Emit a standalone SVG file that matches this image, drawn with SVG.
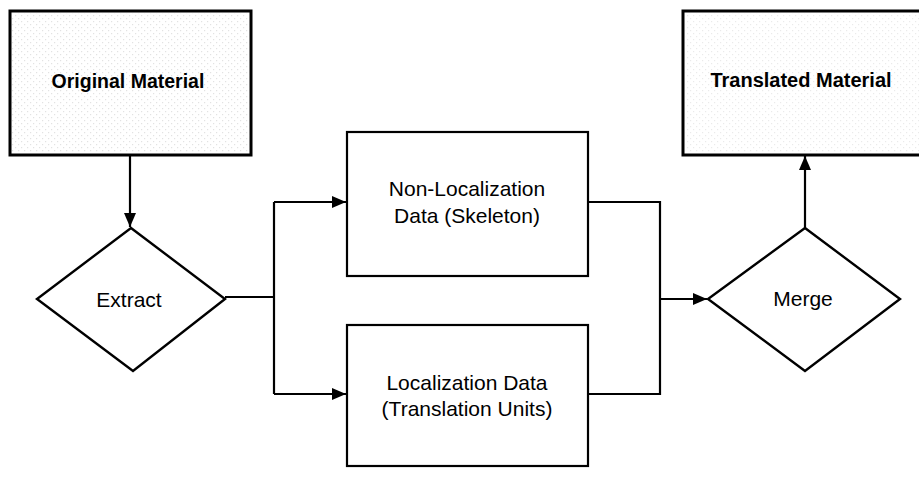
<svg xmlns="http://www.w3.org/2000/svg" width="919" height="479" viewBox="0 0 919 479">
  <style>
    .box { fill: #ffffff; stroke: #000000; stroke-width: 2.2; }
    .mat { stroke-width: 3; }
    .dia { fill: #ffffff; stroke: #000000; stroke-width: 2.4; stroke-linejoin: miter; }
    .lbl { font-family: "Liberation Sans", Arial, sans-serif; font-size: 21px; fill: #000000; text-anchor: middle; dominant-baseline: central; }
    .bold { font-weight: bold; font-size: 19.5px; }
    .wire { fill: none; stroke: #000000; stroke-width: 2.2; }
  </style>
  <defs>
    <marker id="arrow" markerWidth="14" markerHeight="12" refX="14" refY="6" orient="auto" markerUnits="userSpaceOnUse">
      <path d="M0,0 L14,6 L0,12 Z" fill="#000000"/>
    </marker>
    <!-- stipple texture used inside the material boxes -->
    <pattern id="stipple" width="6" height="6" patternUnits="userSpaceOnUse">
      <rect x="0" y="0" width="1.2" height="1.2" fill="#8a8a8a"/>
      <rect x="3" y="3" width="1.2" height="1.2" fill="#8a8a8a"/>
    </pattern>
  </defs>

  <rect width="919" height="479" fill="#ffffff"/>

  <g id="original-material">
    <rect class="box mat" x="10" y="11" width="241" height="144"/>
    <rect x="12" y="13" width="237" height="140" fill="url(#stipple)" opacity="0.25"/>
    <text class="lbl bold" x="128" y="81">Original Material</text>
  </g>

  <g id="translated-material">
    <rect class="box mat" x="683" y="11" width="240" height="144"/>
    <rect x="685" y="13" width="234" height="140" fill="url(#stipple)" opacity="0.18"/>
    <text class="lbl bold" x="801" y="80" style="font-size:20px">Translated Material</text>
  </g>

  <g id="extract">
    <polygon class="dia" points="131,228 225,299 133,371 37,299"/>
    <text class="lbl" x="129" y="299">Extract</text>
  </g>

  <g id="merge">
    <polygon class="dia" points="805,228 900,299 805,371 708,299"/>
    <text class="lbl" x="803" y="298">Merge</text>
  </g>

  <g id="skeleton">
    <rect class="box" x="347" y="132" width="241" height="144"/>
    <text class="lbl" x="467" y="188">Non-Localization</text>
    <text class="lbl" x="467" y="215">Data (Skeleton)</text>
  </g>

  <g id="translation-units">
    <rect class="box" x="347" y="325" width="241" height="141"/>
    <text class="lbl" x="467" y="382">Localization Data</text>
    <text class="lbl" x="467" y="408">(Translation Units)</text>
  </g>

  <g id="connectors">
    <path class="wire" d="M130,155 V227" marker-end="url(#arrow)"/>
    <path class="wire" d="M225,297 H274"/>
    <path class="wire" d="M274,202 V394"/>
    <path class="wire" d="M274,202 H346" marker-end="url(#arrow)"/>
    <path class="wire" d="M274,394 H346" marker-end="url(#arrow)"/>
    <path class="wire" d="M588,202 H660 V394 H588"/>
    <path class="wire" d="M660,299 H707" marker-end="url(#arrow)"/>
    <path class="wire" d="M805,228 V156" marker-end="url(#arrow)"/>
  </g>
</svg>
